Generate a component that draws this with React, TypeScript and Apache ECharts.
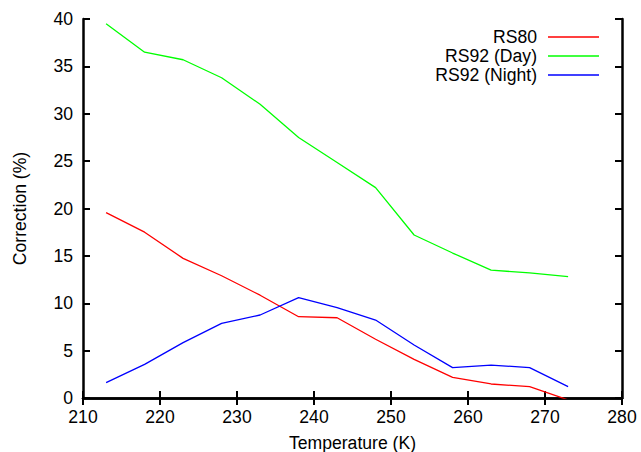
import React, { useEffect, useRef } from "react";
import * as echarts from "echarts";

const temps = [213, 218, 223, 228, 233, 238, 243, 248, 253, 258, 263, 268, 273];
const rs80 = [19.56, 17.5, 14.74, 12.9, 10.85, 8.58, 8.47, 6.2, 4.08, 2.18, 1.48, 1.2, -0.2];
const rs92Day = [39.5, 36.5, 35.7, 33.8, 31.0, 27.5, 24.85, 22.2, 17.2, 15.3, 13.5, 13.2, 12.8];
const rs92Night = [1.62, 3.55, 5.84, 7.88, 8.76, 10.59, 9.53, 8.23, 5.6, 3.2, 3.48, 3.2, 1.2];
const seriesNames = ["RS80", "RS92 (Day)", "RS92 (Night)"];
const seriesColors = ["#ff0000", "#00ff00", "#0000ff"];
const xTitle = "Temperature (K)";
const yTitle = "Correction (%)";

const FONT = "Liberation Sans, Arial, sans-serif";
const FS = 17.6;

export default function App() {
  const ref = useRef<HTMLDivElement>(null);
  useEffect(() => {
    if (!ref.current) return;
    const chart = echarts.init(ref.current, undefined, { renderer: "svg" });
    const allData = [rs80, rs92Day, rs92Night];
    const axisCommon = {
      axisLine: { show: true, lineStyle: { color: "#000", width: 2.5 } },
      axisTick: { show: true, inside: true, length: 7, lineStyle: { color: "#000", width: 2 } },
      splitLine: { show: false },
    };
    chart.setOption({
      animation: false,
      backgroundColor: "#fff",
      textStyle: { fontFamily: FONT },
      grid: { left: 83, right: 19, top: 19, bottom: 54, outerBoundsMode: "none", containLabel: false },
      legend: {
        orient: "vertical",
        right: 37,
        top: 23,
        align: "right",
        icon: "rect",
        itemWidth: 51,
        itemHeight: 1.5,
        itemGap: 1,
        data: seriesNames,
        textStyle: { fontFamily: FONT, fontSize: FS, color: "#000", lineHeight: 17, padding: [0, 6, 0, 0] },
      },
      xAxis: [
        {
          type: "value",
          min: 210,
          max: 280,
          interval: 10,
          position: "bottom",
          name: xTitle,
          nameLocation: "middle",
          nameGap: 36,
          nameTextStyle: { fontFamily: FONT, fontSize: FS, color: "#000" },
          axisLabel: { fontFamily: FONT, fontSize: FS, color: "#000", margin: 10 },
          ...axisCommon,
        },
        {
          type: "value",
          min: 210,
          max: 280,
          interval: 10,
          position: "top",
          axisLabel: { show: false },
          ...axisCommon,
        },
      ],
      yAxis: [
        {
          type: "value",
          min: 0,
          max: 40,
          interval: 5,
          position: "left",
          name: yTitle,
          nameLocation: "middle",
          nameGap: 54,
          nameTextStyle: { fontFamily: FONT, fontSize: FS, color: "#000" },
          axisLabel: { fontFamily: FONT, fontSize: FS, color: "#000", margin: 10 },
          ...axisCommon,
        },
        {
          type: "value",
          min: 0,
          max: 40,
          interval: 5,
          position: "right",
          axisLabel: { show: false },
          ...axisCommon,
        },
      ],
      series: seriesNames.map((name, i) => ({
        name,
        type: "line",
        xAxisIndex: 0,
        yAxisIndex: 0,
        symbol: "none",
        clip: true,
        color: seriesColors[i],
        lineStyle: { color: seriesColors[i], width: 1.3 },
        data: temps.map((t, j) => [t, allData[i][j]]),
      })),
    });
    return () => chart.dispose();
  }, []);
  return <div ref={ref} style={{ width: 641, height: 452, position: "absolute", left: 0, top: 0 }} />;
}
